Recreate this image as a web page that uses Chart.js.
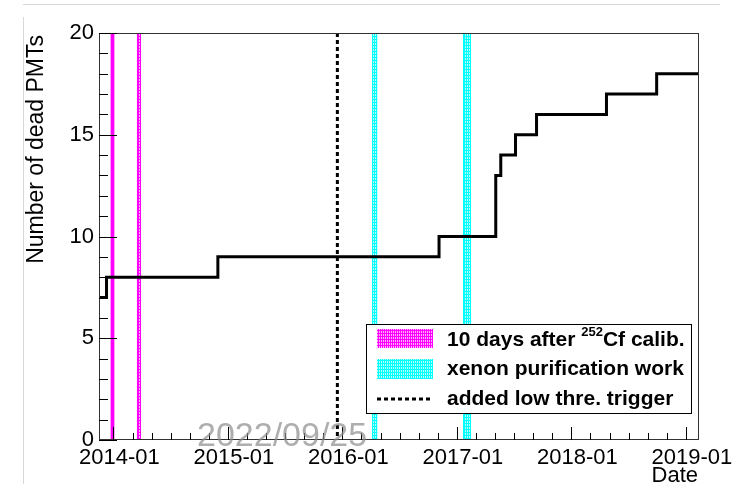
<!DOCTYPE html>
<html>
<head>
<meta charset="utf-8">
<script src="https://cdn.jsdelivr.net/npm/chart.js@4.4.0/dist/chart.umd.min.js"></script>
<style>
  html, body { margin: 0; padding: 0; background: #fff; }
  canvas { display: block; }
</style>
</head>
<body>
<canvas id="chart" width="735" height="484"></canvas>
<script>
// dates where the number of dead PMTs changes, and the new count
const stepDates = ['2013-11-16', '2013-12-10', '2014-11-30', '2016-11-05', '2017-05-05',
  '2017-05-21', '2017-07-07', '2017-09-12', '2018-04-23', '2018-09-30', '2019-02-12'];
const deadPMTs = [7, 8, 9, 10, 13, 14, 15, 16, 17, 18, 18];

const xRange = ['2013-11-16', '2019-02-12'];
const yearTicks = [2014, 2015, 2016, 2017, 2018, 2019];

// 10 days after 252Cf calibration
const calibStart = ['2013-12-23', '2014-03-17'];
const calibEnd = ['2014-01-04', '2014-03-29'];
// xenon purification work
const purifStart = ['2016-04-06', '2017-01-21'];
const purifEnd = ['2016-04-22', '2017-02-14'];
// low threshold trigger added
const triggerDate = '2015-12-16';

const FONT = "'Liberation Sans', Arial, sans-serif";

function toYear(s) {
  const d = new Date(s + 'T00:00:00Z');
  const y = d.getUTCFullYear();
  const start = Date.UTC(y, 0, 1);
  const end = Date.UTC(y + 1, 0, 1);
  return y + (d.getTime() - start) / (end - start);
}

function hatch(ctx, color) {
  const c = document.createElement('canvas');
  c.width = 2; c.height = 3;
  const g = c.getContext('2d');
  g.fillStyle = color;
  g.fillRect(0, 0, 2, 3);
  g.fillStyle = 'rgba(255,255,255,0.7)';
  g.fillRect(1, 1, 1, 1);
  g.fillRect(1, 2, 1, 1);
  return ctx.createPattern(c, 'repeat');
}

const bandsPlugin = {
  id: 'bands',
  beforeDatasetsDraw(chart) {
    const ctx = chart.ctx;
    const xs = chart.scales.x;
    const { top, bottom } = chart.chartArea;
    const drawBands = (starts, ends, color) => {
      const pat = hatch(ctx, color);
      starts.forEach((s, i) => {
        const x0 = xs.getPixelForValue(toYear(s));
        const x1 = xs.getPixelForValue(toYear(ends[i]));
        ctx.fillStyle = pat;
        ctx.fillRect(x0, top, x1 - x0, bottom - top);
        ctx.strokeStyle = color;
        ctx.lineWidth = 1;
        ctx.beginPath();
        ctx.moveTo(Math.round(x0) + 0.5, top); ctx.lineTo(Math.round(x0) + 0.5, bottom);
        ctx.moveTo(Math.round(x1) - 0.5, top); ctx.lineTo(Math.round(x1) - 0.5, bottom);
        ctx.stroke();
      });
    };
    ctx.save();
    drawBands(calibStart, calibEnd, '#ff00ff');
    drawBands(purifStart, purifEnd, '#00ffff');
    // dashed trigger line
    const xt = xs.getPixelForValue(toYear(triggerDate));
    ctx.strokeStyle = '#000';
    ctx.lineWidth = 3;
    ctx.setLineDash([4, 3]);
    ctx.beginPath();
    ctx.moveTo(xt, top);
    ctx.lineTo(xt, bottom);
    ctx.stroke();
    ctx.restore();
  }
};

const decorPlugin = {
  id: 'decor',
  afterDraw(chart) {
    const ctx = chart.ctx;
    const xs = chart.scales.x, ys = chart.scales.y;
    const { left, right, top, bottom } = chart.chartArea;
    ctx.save();

    // page lines
    ctx.strokeStyle = '#d8d8d8';
    ctx.lineWidth = 1;
    ctx.beginPath();
    ctx.moveTo(23, 4.5); ctx.lineTo(720, 4.5);
    ctx.moveTo(23.5, 17); ctx.lineTo(23.5, 484);
    ctx.stroke();

    // frame
    ctx.strokeStyle = '#333';
    ctx.strokeRect(left + 0.5, top + 0.5, right - left - 1, bottom - top - 1);

    // ticks inside the frame
    ctx.strokeStyle = '#000';
    ctx.beginPath();
    for (let v = 0; v <= 20; v++) {
      const y = Math.round(ys.getPixelForValue(v)) + 0.5;
      const len = v % 5 === 0 ? 18 : 9;
      ctx.moveTo(left, y); ctx.lineTo(left + len, y);
    }
    for (let yr = 2013; yr <= 2019; yr++) {
      for (let m = 0; m < 12; m += 2) {
        const v = yr + m / 12;
        if (v < xs.min || v > xs.max) continue;
        const x = Math.round(xs.getPixelForValue(v)) + 0.5;
        const len = m === 0 ? 13 : 7;
        ctx.moveTo(x, bottom); ctx.lineTo(x, bottom - len);
      }
    }
    ctx.stroke();

    // axis titles
    ctx.fillStyle = '#000';
    ctx.font = '23px ' + FONT;
    ctx.save();
    ctx.translate(37, 35);
    ctx.rotate(-Math.PI / 2);
    ctx.textAlign = 'right';
    ctx.textBaseline = 'middle';
    ctx.fillText('Number of dead PMTs', 0, 0);
    ctx.restore();
    ctx.font = '22px ' + FONT;
    ctx.textAlign = 'right';
    ctx.textBaseline = 'top';
    ctx.fillText('Date', 698, 465);

    // legend
    ctx.fillStyle = '#fff';
    ctx.fillRect(366, 324, 326, 90);
    ctx.strokeStyle = '#000';
    ctx.lineWidth = 1;
    ctx.strokeRect(366.5, 324.5, 325, 89);
    ctx.fillStyle = hatch(ctx, '#ff00ff');
    ctx.fillRect(377, 329, 56, 19);
    ctx.fillStyle = hatch(ctx, '#00ffff');
    ctx.fillRect(377, 359, 56, 20);
    ctx.lineWidth = 3;
    ctx.setLineDash([4, 3]);
    ctx.beginPath();
    ctx.moveTo(377, 399); ctx.lineTo(433, 399);
    ctx.stroke();
    ctx.setLineDash([]);
    ctx.fillStyle = '#000';
    ctx.textAlign = 'left';
    ctx.textBaseline = 'alphabetic';
    ctx.font = 'bold 21px ' + FONT;
    const t1 = '10 days after ';
    ctx.fillText(t1, 447, 346);
    let xx = 447 + ctx.measureText(t1).width;
    ctx.font = 'bold 13px ' + FONT;
    ctx.fillText('252', xx, 336);
    xx += ctx.measureText('252').width;
    ctx.font = 'bold 21px ' + FONT;
    ctx.fillText('Cf calib.', xx, 346);
    ctx.fillText('xenon purification work', 447, 375);
    ctx.fillText('added low thre. trigger', 447, 405);

    // date stamp
    ctx.fillStyle = 'rgba(140,140,140,0.7)';
    ctx.font = '34px ' + FONT;
    ctx.fillText('2022/09/25', 197, 446);
    ctx.restore();
  }
};

const points = stepDates.map((d, i) => ({ x: toYear(d), y: deadPMTs[i] }));

new Chart(document.getElementById('chart'), {
  type: 'line',
  data: {
    datasets: [{
      label: 'dead PMTs',
      data: points,
      stepped: 'before',
      borderColor: '#000',
      borderWidth: 3,
      pointRadius: 0,
      fill: false
    }]
  },
  options: {
    responsive: false,
    animation: false,
    devicePixelRatio: 1,
    layout: { padding: { left: 0, right: 36, top: 33, bottom: 0 } },
    plugins: { legend: { display: false }, tooltip: { enabled: false } },
    scales: {
      x: {
        type: 'linear',
        min: toYear(xRange[0]),
        max: toYear(xRange[1]),
        grid: { display: false, drawTicks: false },
        border: { display: false },
        afterBuildTicks: (s) => { s.ticks = yearTicks.map(v => ({ value: v })); },
        afterFit: (s) => { s.height = 44; s.paddingLeft = 0; s.paddingRight = 0; },
        ticks: {
          autoSkip: false,
          maxRotation: 0,
          padding: 5,
          labelOffset: 6,
          color: '#000',
          font: { family: FONT, size: 22 },
          callback: (v) => v + '-01'
        }
      },
      y: {
        min: 0,
        max: 20,
        grid: { display: false, drawTicks: false },
        border: { display: false },
        afterFit: (s) => { s.width = 99; s.paddingTop = 0; s.paddingBottom = 0; },
        ticks: {
          stepSize: 5,
          padding: 5,
          color: '#000',
          font: { family: FONT, size: 22 }
        }
      }
    }
  },
  plugins: [bandsPlugin, decorPlugin]
});
</script>
</body>
</html>
